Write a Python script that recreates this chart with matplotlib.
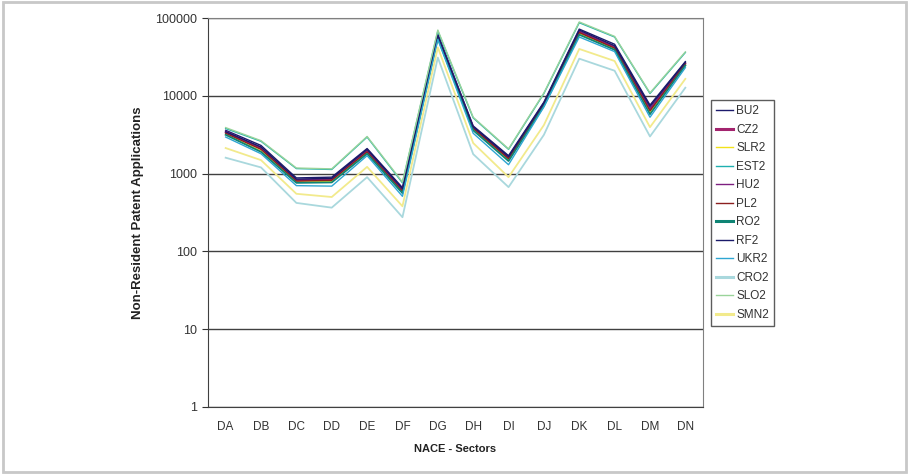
import matplotlib
matplotlib.use('Agg')
import matplotlib.pyplot as plt
from matplotlib.patches import Rectangle

plt.rcParams['font.family'] = ['Liberation Sans', 'DejaVu Sans']
plt.rcParams['font.size'] = 8

sectors = ['DA', 'DB', 'DC', 'DD', 'DE', 'DF', 'DG', 'DH', 'DI', 'DJ', 'DK', 'DL', 'DM', 'DN']

# values
BU2 = [3600, 2300, 880, 900, 2100, 660, 62000, 4100, 1700, 8300, 72000, 46000, 7600, 27500]
CZ2 = [3400, 2100, 820, 840, 1950, 610, 58000, 3900, 1580, 7800, 66000, 42000, 6600, 26000]
SLR2 = [3200, 1950, 780, 790, 1850, 570, 56000, 3700, 1500, 7500, 63000, 40000, 6100, 25000]
EST2 = [3800, 2600, 1160, 1130, 2950, 760, 68000, 5200, 2050, 10700, 87000, 57000, 10700, 36000]
HU2 = [3500, 2150, 830, 860, 2000, 620, 59000, 3950, 1600, 7900, 68000, 43000, 6900, 26500]
PL2 = [3300, 2050, 800, 820, 1900, 590, 57000, 3800, 1550, 7600, 65000, 41000, 6400, 25500]
RO2 = [3150, 1900, 760, 770, 1800, 560, 55000, 3600, 1450, 7400, 61000, 39000, 5800, 24500]
RF2 = [3450, 2200, 850, 870, 2050, 640, 60000, 4000, 1650, 8100, 70000, 44000, 7300, 27000]
UKR2 = [2950, 1800, 700, 690, 1700, 510, 53000, 3300, 1300, 7200, 57000, 37000, 5300, 23000]
CRO2 = [1600, 1200, 420, 365, 900, 275, 31000, 1780, 670, 3150, 30000, 21000, 3000, 12700]
SLO2 = [3900, 2650, 1180, 1150, 3000, 780, 70000, 5300, 2080, 10900, 89000, 58000, 10900, 36700]
SMN2 = [2130, 1490, 550, 500, 1220, 380, 42000, 2470, 900, 4200, 40000, 28000, 3950, 16500]

series = [
    ('BU2', BU2, '#1c1a6c', 1.0),
    ('CZ2', CZ2, '#a3246e', 2.2),
    ('SLR2', SLR2, '#f2e21a', 1.0),
    ('EST2', EST2, '#1fb0b0', 1.0),
    ('HU2', HU2, '#7e1f80', 1.0),
    ('PL2', PL2, '#8c2020', 1.0),
    ('RO2', RO2, '#0e8474', 2.2),
    ('RF2', RF2, '#1a1a6a', 1.0),
    ('UKR2', UKR2, '#2ea6d2', 1.0),
    ('CRO2', CRO2, '#a9d8dd', 2.2),
    ('SLO2', SLO2, '#9ad49a', 1.0),
    ('SMN2', SMN2, '#f2ea8c', 2.2),
]

fig = plt.figure(figsize=(9.09, 4.75), dpi=100)
ax = fig.add_axes([0.2288, 0.1432, 0.7734 - 0.2288, 0.9621 - 0.1432])

x = range(len(sectors))
handles = []
for name, vals, col, lw in series:
    plot_lw = 1.0 if lw < 2 else 1.3
    ax.plot(x, vals, color=col, lw=plot_lw)
    h, = ax.plot([], [], color=col, lw=lw, label=name)
    handles.append(h)

ax.set_yscale('log')
ax.set_ylim(1, 100000)
ax.set_xlim(-0.5, len(sectors) - 0.5)
ax.set_yticks([1, 10, 100, 1000, 10000, 100000])
ax.set_yticklabels(['1', '10', '100', '1000', '10000', '100000'])
ax.minorticks_off()
ax.set_xticks(list(x))
ax.set_xticklabels(sectors)
ax.tick_params(axis='x', length=0, pad=10, colors='#333333', labelsize=8.5)
ax.tick_params(axis='y', length=4, direction='out', colors='#333333', labelsize=9, pad=4)
ax.yaxis.grid(True, color='#404040', lw=1)
ax.set_axisbelow(True)

for s in ['left', 'bottom']:
    ax.spines[s].set_color('#404040')
for s in ['top', 'right']:
    ax.spines[s].set_color('#808080')

ax.set_ylabel('Non-Resident Patent Applications', fontweight='bold', fontsize=9.5,
              labelpad=8, color='#222222')
ax.set_xlabel('NACE - Sectors', fontweight='bold', fontsize=8, labelpad=8, color='#222222')

leg = fig.legend(handles=handles, loc='upper left', bbox_to_anchor=(711 / 909, 1 - 100 / 475),
                 frameon=True, fancybox=False, fontsize=8.5, handlelength=1.4, handletextpad=0.3,
                 labelspacing=0.55, borderpad=0.45, borderaxespad=0)
leg.get_frame().set_edgecolor('#333333')
leg.get_frame().set_linewidth(1)
for t in leg.get_texts():
    t.set_color('#333333')

fig.patches.append(Rectangle((0.003, 0.006), 0.994, 0.99, transform=fig.transFigure,
                             fill=False, edgecolor='#c8c8c8', lw=2))

fig.savefig('out.png', dpi=100)
